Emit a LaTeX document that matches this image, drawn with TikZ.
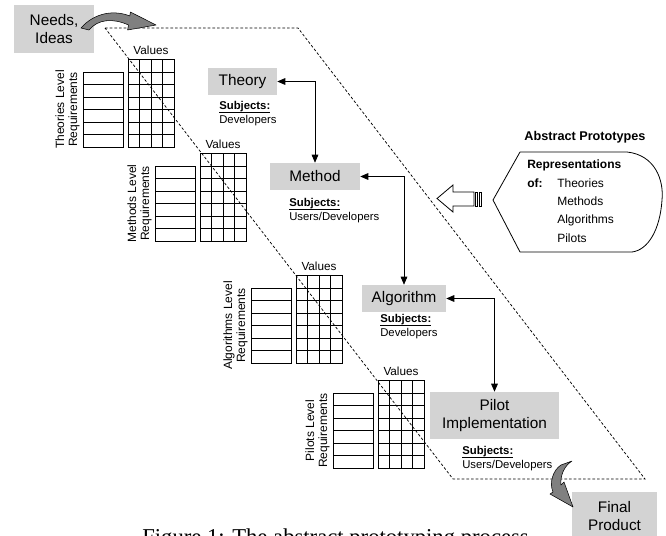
\documentclass[tikz,border=0pt]{standalone}
\usepackage{fontspec}
\setmainfont{Liberation Sans}
\newfontfamily\captionserif{Liberation Serif}
\usetikzlibrary{arrows.meta}

\definecolor{boxgray}{RGB}{211,211,211}
\definecolor{bandgray}{RGB}{128,128,128}

% bold heading underlined just below its baseline
\newcommand\subjhead[1]{\setbox0=\hbox{\textbf{#1}}\dp0=0pt\underline{\box0}}

\tikzset{
  stagebox/.style={fill=boxgray, draw=none, inner sep=0pt, align=center,
    font=\fontsize{11.5}{14}\selectfont},
  subj/.style={anchor=north west, inner sep=0pt, align=left,
    font=\fontsize{8.5}{10}\selectfont},
  gridline/.style={line width=0.6pt},
  valuelbl/.style={font=\fontsize{8.8}{10}\selectfont, inner sep=0pt},
  levellbl/.style={rotate=90, align=center, inner sep=0pt,
    font=\fontsize{9}{9.8}\selectfont},
  link/.style={line width=0.5pt,
    {Triangle[length=6pt,width=5pt]}-{Triangle[length=6pt,width=5pt]}},
  frame/.style={line width=0.55pt, dash pattern=on 2pt off 1.5pt},
  bandarrow/.style={fill=bandgray, draw=black, line width=0.4pt, line join=round},
}

% requirements column (6 rows) with its values grid (4 x 7)
% #1 name prefix, #2 left x, #3 bottom y, #4 first line of the side label
\newcommand\reqgroup[4]{%
  \begin{scope}[shift={(#2,#3)}]
    \draw[gridline] (0,0) rectangle (40,-75);
    \foreach \r in {1,...,5} {\draw[gridline] (0,-12.5*\r) -- (40,-12.5*\r);}
    \draw[gridline] (45,0) rectangle (91,-87.5);
    \foreach \c in {1,2,3} {\draw[gridline] (45+11.5*\c,0) -- (45+11.5*\c,-87.5);}
    \foreach \r in {1,...,6} {\draw[gridline] (45,-12.5*\r) -- (91,-12.5*\r);}
    \node[valuelbl] (#1values) at (68,-96.5) {Values};
    \node[levellbl] (#1label) at (-15.5,-37.5) {#4\\Requirements};
  \end{scope}}

\begin{document}
\begin{tikzpicture}[x=0.75pt,y=-0.75pt]
\useasboundingbox (0,0) rectangle (666,535);
\clip (0,0) rectangle (666,535);

% dashed frame of the abstract prototyping area
\draw[frame] (105,28) -- (298,28) -- (645,479) -- (453,479) -- cycle;

% requirement tables
\reqgroup{th}{83}{147}{Theories Level}
\reqgroup{me}{155}{241}{Methods Level}
\reqgroup{al}{251}{363}{Algorithms Level}
\reqgroup{pi}{333}{468}{Pilots Level}

% stages
\node[stagebox, minimum width=60pt, minimum height=36pt,
      font=\fontsize{11.5}{13.5}\selectfont] (needs) at (54,29) {Needs,\\Ideas};
\node[stagebox, minimum width=51.75pt, minimum height=20.25pt] (theory) at (242.5,81.5) {Theory};
\node[stagebox, minimum width=67.5pt, minimum height=20.25pt] (method) at (315,176.5) {Method};
\node[stagebox, minimum width=63pt, minimum height=20.25pt] (algorithm) at (404,298.5) {Algorithm};
\node[stagebox, minimum width=96.75pt, minimum height=35.25pt] (pilot) at (494.5,415.5) {Pilot\\Implementation};
\node[stagebox, minimum width=63.75pt, minimum height=36pt,
      font=\fontsize{11.5}{13.5}\selectfont] (final) at (614.5,516) {Final\\Product};

% subjects of each stage
\node[subj] (theorysubj) at (219,101.5) {\subjhead{Subjects:}\\Developers};
\node[subj] (methodsubj) at (289,198.5) {\subjhead{Subjects:}\\Users/Developers};
\node[subj] (algosubj) at (380,314.5) {\subjhead{Subjects:}\\Developers};
\node[subj] (pilotsubj) at (462,446.5) {\subjhead{Subjects:}\\Users/Developers};

% links between stages
\draw[link] (theory.east) -| (method.north);
\draw[link] (method.east) -| (algorithm.north);
\draw[link] (algorithm.east) -| (pilot.north);

% curved arrow from needs into the process
\draw[bandarrow] (81,28) .. controls (95,12) and (115,10) .. (129.8,16)
  -- (130.4,12) -- (156,25) -- (127.6,30) -- (128.5,25)
  .. controls (113,18) and (98,19) .. (89,30) -- cycle;

% curved arrow from the process to the final product
\draw[bandarrow] (572,461) -- (561,465)
  .. controls (553,470) and (549,483) .. (553,492)
  -- (550,494) -- (573,507) -- (564,482) -- (561,485)
  .. controls (560,476) and (564,466) .. (572,461) -- cycle;

% abstract prototypes
\node[font=\bfseries\fontsize{9.5}{11}\selectfont, inner sep=0pt] (abstitle) at (585,137) {Abstract Prototypes};
\draw[line width=0.6pt, line join=round] (520,152) -- (627,152)
  .. controls (655,155) and (664,180) .. (662,200)
  .. controls (660,230) and (648,250) .. (632,252)
  -- (520,252) -- (493,200) -- cycle;
\node[anchor=north west, inner sep=0pt, align=left,
      font=\fontsize{9}{13.7}\selectfont] (reps) at (527,160)
  {\textbf{Representations}\\
   \makebox[22.5pt][l]{\textbf{of:}}Theories\\
   \hspace*{22.5pt}Methods\\
   \hspace*{22.5pt}Algorithms\\
   \hspace*{22.5pt}Pilots};

% striped block arrow pointing into the process
\draw[line width=0.6pt, fill=white, line join=miter]
  (474,192) -- (453,192) -- (453,185) -- (437,198.5) -- (453,212)
  -- (453,206) -- (474,206) -- cycle;
\draw[line width=0.5pt] (475.5,192) rectangle (477,206);
\draw[line width=0.5pt] (479,192) rectangle (481.5,206);

% caption, running off the lower edge
\node[anchor=base west, inner sep=0pt,
      font=\captionserif\fontsize{17}{20}\selectfont] (caption) at (142,544)
  {Figure 1: The abstract prototyping process};
\end{tikzpicture}
\end{document}
